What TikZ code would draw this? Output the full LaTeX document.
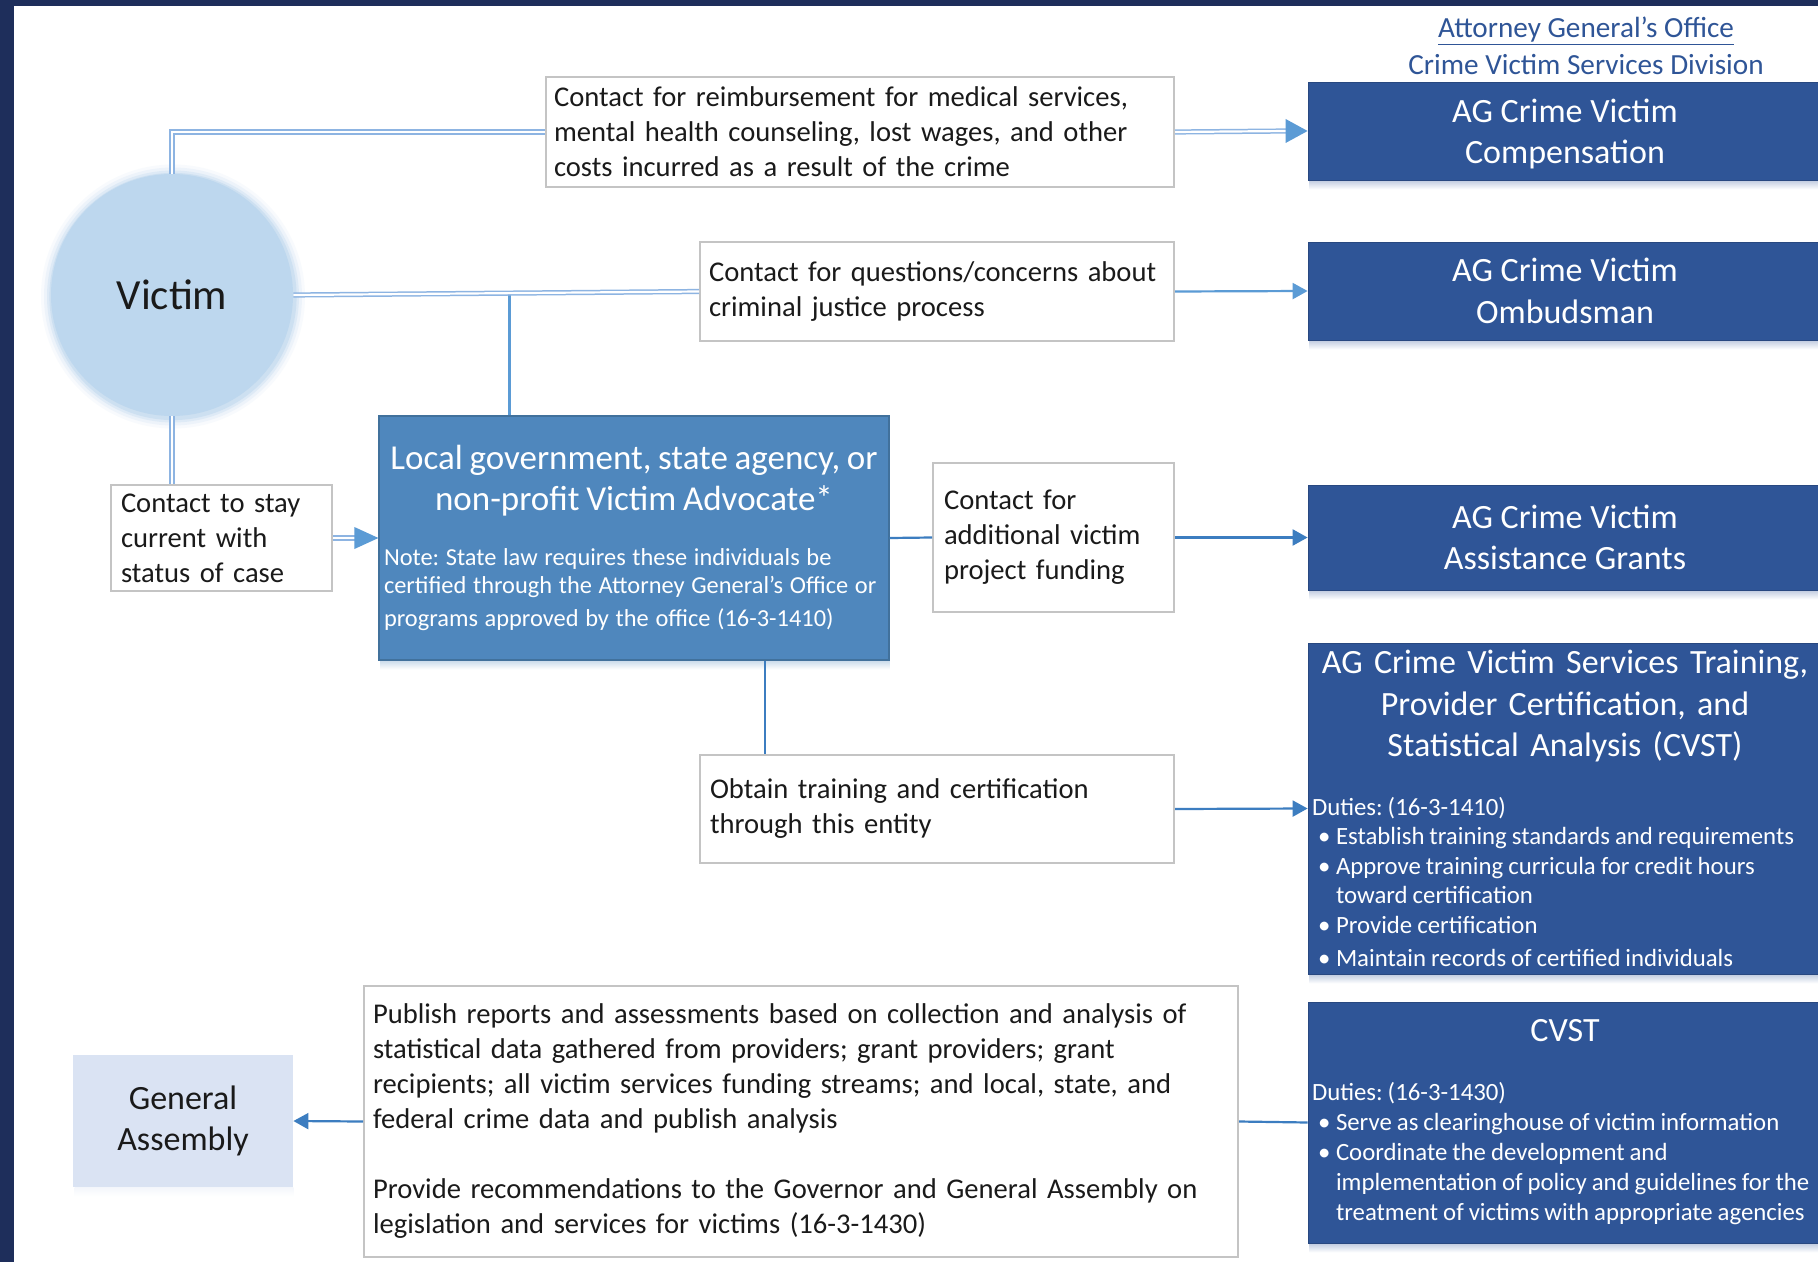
\documentclass[tikz,border=0pt]{standalone}
\usepackage{fontspec}
\setmainfont{Carlito}
\usetikzlibrary{arrows.meta,calc,backgrounds}
\setlength{\parindent}{0pt}
\setlength{\parskip}{0pt}
\frenchspacing
\definecolor{navy}{HTML}{1E2E5B}
\definecolor{agblue}{HTML}{2F5597}
\definecolor{advblue}{HTML}{4F87BD}
\definecolor{advborder}{HTML}{41719C}
\definecolor{victimfill}{HTML}{BDD7EE}
\definecolor{gafill}{HTML}{DAE3F3}
\definecolor{boxgray}{HTML}{C4C4C4}
\definecolor{lineA}{HTML}{5B9BD5}
\definecolor{lineB}{HTML}{3C7DC0}
\definecolor{dblline}{HTML}{8DB4E2}
\definecolor{bodytext}{HTML}{1A1A1A}
\newcommand\titlefont{\fontsize{17}{20.75}\selectfont}
\newcommand\bodyfont{\fontsize{14.3}{17.5}\selectfont}
\newcommand\dutyfont[1][14.75]{\fontsize{12.4}{#1}\selectfont\spaceskip=0.2em plus 0.05em minus 0.03em\relax}
\newcommand\notefont{\fontsize{12.2}{14}\selectfont}
\newcommand\nodepth[1]{\raisebox{0pt}[\height][0pt]{#1}}
\newcommand\bul[2][0pt]{\par\vspace{#1}\hangindent=12pt\hangafter=1\noindent\hbox to 12pt{\hskip3pt\textbullet\hss}#2}
\tikzset{
  wbox/.style={draw=boxgray, line width=1pt, fill=white, align=left, inner ysep=0pt,
    font=\bodyfont, text=bodytext},
  agbox/.style={fill=agblue, draw=agblue!85!black, line width=0.4pt, text=white, align=center,
    inner xsep=2pt, inner ysep=0pt, font=\titlefont, minimum width=257pt},
  dbl/.style={draw=dblline, line width=0.75pt, double=white, double distance=1.1pt},
  sline/.style={draw=lineB, line width=1.1pt},
  sarrow/.style={draw=lineB, line width=1.1pt, -{Triangle[length=7.5pt,width=8pt]}},
}
\begin{document}
\begin{tikzpicture}[x=0.5pt, y=-0.5pt]
\useasboundingbox (0,0) rectangle (1818,1262);
\begin{pgfonlayer}{background}
\fill[navy] (0,0) rectangle (1818,1262);
\fill[white] (14,6) rectangle (1818,1262);
% soft glow round the victim circle
\foreach \r/\o in {66/0.10, 64.5/0.18, 63/0.3, 61.8/0.5} {
  \fill[victimfill, opacity=\o] (173,296.5) circle (\r pt);
}
\end{pgfonlayer}

% header
\node[text=agblue, align=center, font=\fontsize{14.6}{18.5}\selectfont, inner sep=0pt] (hdr) at (1586,45.5)
  {\underline{Attorney General’s Office}\\Crime Victim Services Division};

% victim
\node[circle, fill=victimfill, minimum size=121pt, inner sep=0pt, text=bodytext,
  font=\fontsize{21.5}{24}\selectfont] (victim) at (172,295) {Victim};

% white boxes
\node[wbox, minimum width=314pt, minimum height=55pt, inner xsep=4pt, text width=306pt] (reimb) at (860,132)
  {\mbox{Contact for reimbursement for medical services,}\\\mbox{mental health counseling, lost wages, and other}\\\mbox{costs incurred as a result of the crime}};
\node[wbox, minimum width=237pt, minimum height=49.5pt, inner xsep=4.5pt, text width=228pt] (quest) at (937,291.5)
  {\mbox{Contact for questions/concerns about}\\\mbox{criminal justice process}};
\node[wbox, minimum width=110.5pt, minimum height=53pt, inner xsep=5pt, text width=100.5pt] (stay) at (221.5,538)
  {\mbox{Contact to stay}\\\mbox{current with}\\\mbox{status of case}};
\node[wbox, minimum width=120.5pt, minimum height=74.5pt, inner xsep=5.5pt, text width=109.5pt] (addl) at (1053.5,537.5)
  {\mbox{Contact for}\\\mbox{additional victim}\\\mbox{project funding}};
\node[wbox, minimum width=237pt, minimum height=54pt, inner xsep=5pt, text width=227pt] (obtain) at (937,809)
  {\mbox{Obtain training and certification}\\\mbox{through this entity}};
\node[wbox, minimum width=437pt, minimum height=135.5pt, inner xsep=4.5pt, text width=428pt] (publish) at (801,1121.5)
  {\mbox{Publish reports and assessments based on collection and analysis of}\\
   \mbox{statistical data gathered from providers; grant providers; grant}\\
   \mbox{recipients; all victim services funding streams; and local, state, and}\\
   \mbox{federal crime data and publish analysis}\\[17.5pt]
   \mbox{Provide recommendations to the Governor and General Assembly on}\\
   \mbox{legislation and services for victims (16-3-1430)}};

% advocate
\node[fill=advblue, draw=advborder, line width=0.6pt, text=white, align=left,
  minimum width=255pt, minimum height=122pt, inner xsep=2.5pt, inner ysep=0pt, text width=250pt]
  (adv) at (634,538) {%
  {\fontsize{17.5}{20.75}\selectfont\centering Local government, state agency, or\\ non-profit Victim Advocate*\par}%
  \vspace{13.5pt}%
  {\notefont\mbox{Note: State law requires these individuals be}\\
   \mbox{certified through the Attorney General’s Office or}\\[2.5pt]
   \mbox{programs approved by the office (16-3-1410)}\par}};

% general assembly
\node[fill=gafill, minimum width=110pt, minimum height=66pt, inner sep=0pt, align=center, text=bodytext,
  font=\fontsize{17}{20.5}\selectfont] (ga) at (183,1121) {General\\Assembly};

% AG boxes
\node[agbox, minimum height=49pt] (comp) at (1565,131) {AG Crime Victim\\\nodepth{Compensation}};
\node[agbox, minimum height=49pt] (omb) at (1565,291) {AG Crime Victim\\Ombudsman};
\node[agbox, minimum height=52.5pt] (grants) at (1565,537.5) {AG Crime Victim\\Assistance Grants};
\node[agbox, minimum height=165.5pt, text width=253pt, align=left] (train) at (1565,808.5) {%
  {\titlefont\centering AG Crime Victim Services Training,\\ Provider Certification, and\\ Statistical Analysis (CVST)\par}%
  \vspace{14.5pt}%
  {\dutyfont\mbox{Duties: (16-3-1410)}%
  \bul{\mbox{Establish training standards and requirements}}%
  \bul{\mbox{Approve training curricula for credit hours}\newline\mbox{toward certification}}%
  \bul{\mbox{Provide certification}}%
  \bul[2pt]{\mbox{Maintain records of certified individuals}}\par}};
\node[agbox, minimum height=120.5pt, text width=253pt, align=left] (cvst) at (1565,1122.5) {%
  {\titlefont\centering CVST\par}%
  \vspace{14.5pt}%
  {\dutyfont[15]\mbox{Duties: (16-3-1430)}%
  \bul{\mbox{Serve as clearinghouse of victim information}}%
  \bul{\mbox{Coordinate the development and}\newline\mbox{implementation of policy and guidelines for the}\newline\mbox{treatment of victims with appropriate agencies}}\par}};

% soft shadows below the filled boxes
\begin{pgfonlayer}{background}
\foreach \n/\c in {comp/agblue, omb/agblue, grants/agblue, train/agblue, cvst/agblue, adv/advblue, ga/gafill} {
  \shade[top color=\c!30, bottom color=white] ([xshift=1pt]\n.south west) rectangle ([yshift=-4.5pt]\n.south east);
}
\end{pgfonlayer}

% connectors
\coordinate (br) at ($(victim.east)!0.533!(quest.west)$);
\draw[draw=lineA, line width=1.1pt] (br) -- (br |- adv.north);
\coordinate (ab) at ($(adv.south west)!0.757!(adv.south east)$);
\draw[sline] (ab) -- (ab |- obtain.north);

\draw[dbl] (victim.north) |- (reimb.west);
\draw[dbl] (reimb.east) -- ([xshift=-10pt]comp.west);
\fill[lineA] (comp.west) -- ++(-11pt,6pt) -- ++(0,-12pt) -- cycle;

\draw[dbl] (victim.east) -- (quest.west);
\draw[draw=lineA, line width=1.1pt, -{Triangle[length=7.5pt,width=8pt]}] (quest.east) -- (omb.west);

\draw[dbl] (victim.south) -- (victim.south |- stay.north);
\draw[dbl] (stay.east) -- ([xshift=-11pt]adv.west);
\fill[lineA] (adv.west) -- ++(-12pt,5.5pt) -- ++(0,-11pt) -- cycle;

\draw[sline] (adv.east) -- (addl.west);
\draw[sarrow] (addl.east) -- (grants.west);
\draw[sarrow] (obtain.east) -- (train.west);
\draw[sline] (cvst.west) -- (publish.east);
\draw[sarrow] (publish.west) -- (ga.east);
\end{tikzpicture}
\end{document}
